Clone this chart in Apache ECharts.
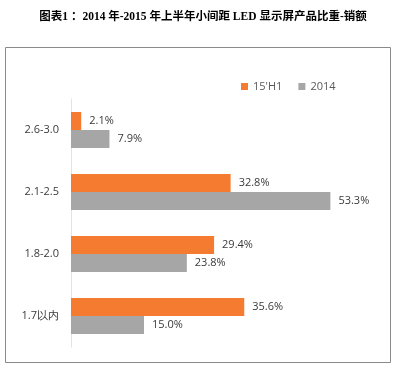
<!DOCTYPE html>
<html><head><meta charset="utf-8">
<script src="https://cdn.jsdelivr.net/npm/echarts@6/dist/echarts.min.js"></script>
<style>html,body{margin:0;padding:0;background:#fff}#c{width:397px;height:368px}</style>
</head><body><div id="c"></div>
<script>
const titleText = '图表1 ：2014 年-2015 年上半年小间距 LED 显示屏产品比重-销额';
const categories = ['2.6-3.0', '2.1-2.5', '1.8-2.0', '1.7以内'];
const seriesNames = ["15'H1", '2014'];
const valuesH1 = [2.1, 32.8, 29.4, 35.6];
const values2014 = [7.9, 53.3, 23.8, 15.0];

const chart = echarts.init(document.getElementById('c'));
const lbl = {show: true, position: 'right', distance: 8, color: '#3a3a3a', fontSize: 11,
  fontFamily: 'Open Sans, sans-serif', formatter: p => p.value.toFixed(1) + '%'};
chart.setOption({
  animation: false,
  backgroundColor: '#fff',
  title: {text: titleText, left: 198, textAlign: 'center', top: 6,
    textStyle: {fontSize: 11.5, fontWeight: 'bold', color: '#000', fontFamily: 'Liberation Serif, Noto Sans CJK SC, serif'}},
  graphic: [{type: 'rect', shape: {x: 5.5, y: 47.5, width: 385, height: 315},
    style: {fill: 'none', stroke: '#8a8a8a', lineWidth: 1}}],
  legend: {data: seriesNames, left: 236, top: 76, itemWidth: 7, itemHeight: 7, itemGap: 16, icon: 'rect',
    textStyle: {fontSize: 11, color: '#595959', fontFamily: 'Open Sans, sans-serif'}},
  grid: {left: 71, right: 34, top: 99, bottom: 21},
  xAxis: {type: 'value', min: 0, max: 60, show: false},
  yAxis: {type: 'category', data: categories, inverse: true,
    axisLine: {lineStyle: {color: '#e3e3e3'}}, axisTick: {show: false},
    axisLabel: {color: '#3a3a3a', fontSize: 11, margin: 12, fontFamily: 'Open Sans, sans-serif'}},
  series: [
    {name: seriesNames[0], type: 'bar', data: valuesH1, barGap: '0%', barCategoryGap: '42%',
      itemStyle: {color: '#F47B30'}, label: lbl},
    {name: seriesNames[1], type: 'bar', data: values2014, barGap: '0%', barCategoryGap: '42%',
      itemStyle: {color: '#A6A6A6'}, label: lbl}
  ]
});
</script></body></html>
